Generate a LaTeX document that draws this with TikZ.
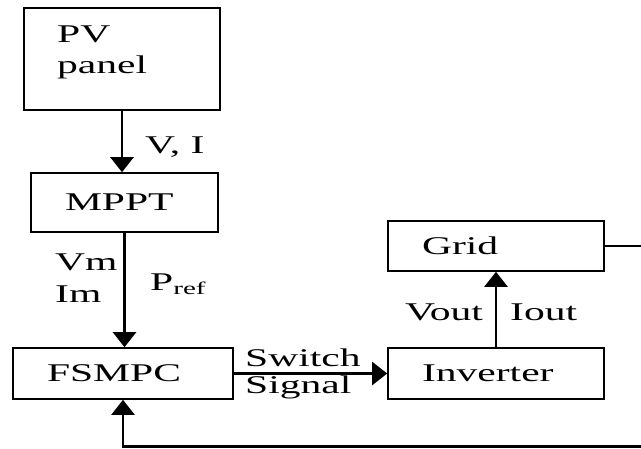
\documentclass[tikz,border=0pt]{standalone}
\usepackage{fontspec}
\setmainfont{Liberation Serif}[FakeStretch=1.63]
\usetikzlibrary{calc, positioning}
\usetikzlibrary{arrows.meta}

\tikzset{
  blk/.style={draw, line width=1.6pt, align=left, inner xsep=34pt, inner ysep=0pt,
    font=\fontsize{25.5}{31}\selectfont},
  lbl/.style={inner sep=0pt, font=\fontsize{25.5}{31}\selectfont},
  sig/.style={line width=2.4pt, -{Triangle[length=15pt, width=23pt]}}
}

\begin{document}
\begin{tikzpicture}[x=1pt, y=-1pt]
\useasboundingbox (0,0) rectangle (641,448);
\clip (0,0) rectangle (641,448);

% blocks
\node[blk, text width=128pt, minimum height=102pt] (pv) at (122,59) {};
\node[lbl, align=left, anchor=north west] (pvtxt) at (57,26) {PV\\panel};
\node[blk, text width=119pt, minimum height=59pt] (mppt) at (124.5,202.5) {MPPT};
\node[blk, text width=152pt, minimum height=51pt] (fsmpc) at (123,373.5) {FSMPC};
\node[blk, text width=148pt, minimum height=50pt] (grid) at (496,246) {Grid};
\node[blk, text width=148pt, minimum height=51pt] (inv) at (496,373.5) {Inverter};

% signals
\draw[sig] (pv.south) -- (pv.south |- mppt.north);
\draw[sig] (mppt.south) -- (mppt.south |- fsmpc.north);
\draw[sig] (fsmpc.east) -- (inv.west);
\draw[sig] (inv.north) -- (grid.south);

% feedback from grid
\coordinate (fbr) at (660,446.5);
\coordinate (fbl) at (fsmpc.south |- fbr);
\draw[sig] (grid.east) -| (fbr) -- (fbl) -- (fsmpc.south);

% labels
\node[lbl, anchor=base west] (vi) at (145,153) {V, I};
\node[lbl, anchor=base west] (vm) at (55,270) {Vm};
\node[lbl, anchor=base west] (im) at (55,302) {Im};
\node[lbl, anchor=base west] (pref) at (150,290) {P\textsubscript{ref}};
\node[lbl, anchor=base west] (sw) at (245,366) {Switch};
\node[lbl, anchor=base west] (sg) at (245,393) {Signal};
\node[lbl, anchor=base west] (vout) at (405,320) {Vout};
\node[lbl, anchor=base west] (iout) at (510,320) {Iout};
\end{tikzpicture}
\end{document}
